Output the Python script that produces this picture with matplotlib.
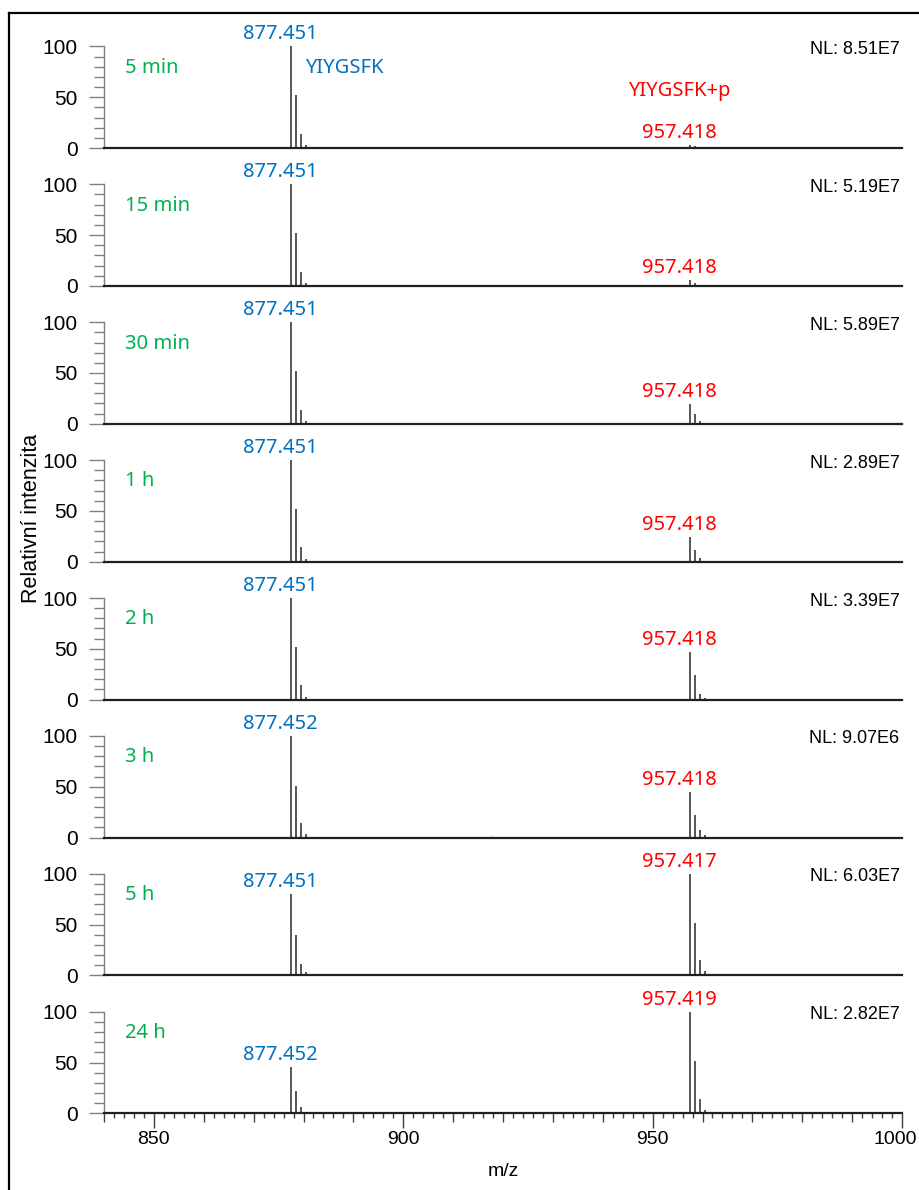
import matplotlib
matplotlib.use("Agg")
import matplotlib.pyplot as plt
import matplotlib.transforms as mtransforms
from matplotlib.lines import Line2D

# ---------------- data ----------------
times = ['5 min', '15 min', '30 min', '1 h', '2 h', '3 h', '5 h', '24 h']
nl_values = ['8.51E7', '5.19E7', '5.89E7', '2.89E7', '3.39E7', '9.07E6', '6.03E7', '2.82E7']

mz_a = [877.451, 878.454, 879.457, 880.460]
mz_b = [957.418, 958.421, 959.424, 960.427]

int_a = [
    [100, 52, 14, 3],
    [100, 52, 14, 3],
    [100, 52, 14, 3],
    [100, 52, 14, 3],
    [100, 52, 14, 3],
    [100, 51, 14, 3],
    [80, 40, 11, 3],
    [46, 22, 6, 1.5],
]
int_b = [
    [3, 1.5, 0.5, 0],
    [6, 3, 1, 0],
    [19, 10, 3, 1],
    [24, 12, 4, 1],
    [47, 24, 6, 2],
    [45, 22, 7, 2],
    [100, 52, 15, 4],
    [100, 51, 14, 3],
]
label_a = ['877.451', '877.451', '877.451', '877.451', '877.451', '877.452', '877.451', '877.452']
label_b = ['957.418', '957.418', '957.418', '957.418', '957.418', '957.418', '957.417', '957.419']

noise_mz = [862.4, 891.5, 917.6, 934.8]
noise_int = [0.5, 0.5, 1.5, 0.5]   # visible in the 3 h spectrum

name_a = 'YIYGSFK'
name_b = 'YIYGSFK+p'

# ---------------- style ----------------
W, H = 919, 1190
DPI = 100
BLUE = '#0070C0'
RED = '#FF0000'
GREEN = '#00B050'
PEAK = '#3a3a3a'
SANS = ['Liberation Sans', 'DejaVu Sans']
LBL = ['Noto Sans', 'DejaVu Sans']

fig = plt.figure(figsize=(W / DPI, H / DPI), dpi=DPI)

x_left, x_right = 104, 902
zero0 = 148.0
pitch = 137.9
span = 101.6

def px2fig(x0, y0, w, h):
    return [x0 / W, 1 - (y0 + h) / H, w / W, h / H]

axes = []
for i in range(len(times)):
    zero_y = zero0 + i * pitch
    ax = fig.add_axes(px2fig(x_left, zero_y - span, x_right - x_left, span))
    axes.append(ax)
    ax.set_xlim(840, 1000)
    ax.set_ylim(0, 100)
    for s in ['top', 'right']:
        ax.spines[s].set_visible(False)
    ax.spines['left'].set_color('#808080')
    ax.spines['left'].set_linewidth(1.0)
    ax.spines['bottom'].set_color('#202020')
    ax.spines['bottom'].set_linewidth(1.6)
    ax.patch.set_alpha(0)

    ax.set_yticks([0, 50, 100])
    ax.set_yticks(range(0, 101, 10), minor=True)
    ax.tick_params(axis='y', which='major', length=10.8, width=1.0, color='#808080',
                   labelsize=15, pad=8)
    ax.tick_params(axis='y', which='minor', length=7.2, width=1.0, color='#808080')
    for lab in ax.get_yticklabels():
        lab.set_family(SANS)

    # peaks
    ax.vlines(mz_a, 0, int_a[i], color=PEAK, lw=1.2)
    ax.vlines(mz_b, 0, int_b[i], color=PEAK, lw=1.2)
    if times[i] == '3 h':
        ax.vlines(noise_mz, 0, noise_int, color=PEAK, lw=0.8)

    # peak labels
    ax.annotate(label_a[i], (mz_a[0], int_a[i][0]), xytext=(-10, 7),
                textcoords='offset pixels', ha='center', va='baseline',
                color=BLUE, fontsize=14.5, family=LBL, annotation_clip=False)
    ax.annotate(label_b[i], (mz_b[0], int_b[i][0]), xytext=(-10, 7),
                textcoords='offset pixels', ha='center', va='baseline',
                color=RED, fontsize=14.5, family=LBL, annotation_clip=False)

    # time label
    ax.text(844.2, 79, times[i], color=GREEN, fontsize=14.5, family=LBL,
            ha='left', va='center')
    # NL
    ax.text(999.5, 97, 'NL: ' + nl_values[i], fontsize=13, family=SANS,
            ha='right', va='center', clip_on=False)

    if i < len(times) - 1:
        ax.set_xticks([])
    else:
        ax.set_xticks(range(840, 1001, 10))
        ax.set_xticks(range(840, 1001, 2), minor=True)
        ax.set_xticklabels([str(v) if v % 50 == 0 else '' for v in range(840, 1001, 10)])
        ax.tick_params(axis='x', which='major', length=6.5, width=1.0, color='#404040',
                       labelsize=14, pad=6)
        ax.tick_params(axis='x', which='minor', length=3.6, width=1.0, color='#404040')
        for t, v in zip(ax.xaxis.get_major_ticks(), range(840, 1001, 10)):
            if v % 50 == 0:
                t.tick1line.set_markersize(10.8)
        for lab in ax.get_xticklabels():
            lab.set_family(SANS)
        ax.set_xlabel('m/z', fontsize=14, family=SANS, labelpad=11)

# peptide names in first panel
axes[0].text(880.3, 79, name_a, color=BLUE, fontsize=14.5, family=LBL, ha='left', va='center')
axes[0].text(955.4, 56, name_b, color=RED, fontsize=14.5, family=LBL, ha='center', va='center')

fig.text(32 / W, 1 - 518 / H, 'Relativní intenzita', rotation=90, fontsize=15.5,
         family=SANS, ha='center', va='center')

# outer frame
fig.add_artist(Line2D([9 / W, 9 / W], [0, 1 - 13 / H], transform=fig.transFigure,
                      color='black', lw=1.6))
fig.add_artist(Line2D([9 / W, 1], [1 - 13 / H, 1 - 13 / H], transform=fig.transFigure,
                      color='black', lw=1.6))

# keep the "1000" tick label inside the canvas (right-aligned, shifted slightly right)
fig.canvas.draw()
last_ax = axes[-1]
for t, v in zip(last_ax.xaxis.get_major_ticks(), range(840, 1001, 10)):
    if v == 1000:
        lab = t.label1
        lab.set_horizontalalignment('right')
        lab.set_transform(mtransforms.offset_copy(lab.get_transform(), fig=fig,
                                                  x=15, y=0, units='dots'))

fig.savefig('out.png', dpi=DPI)
